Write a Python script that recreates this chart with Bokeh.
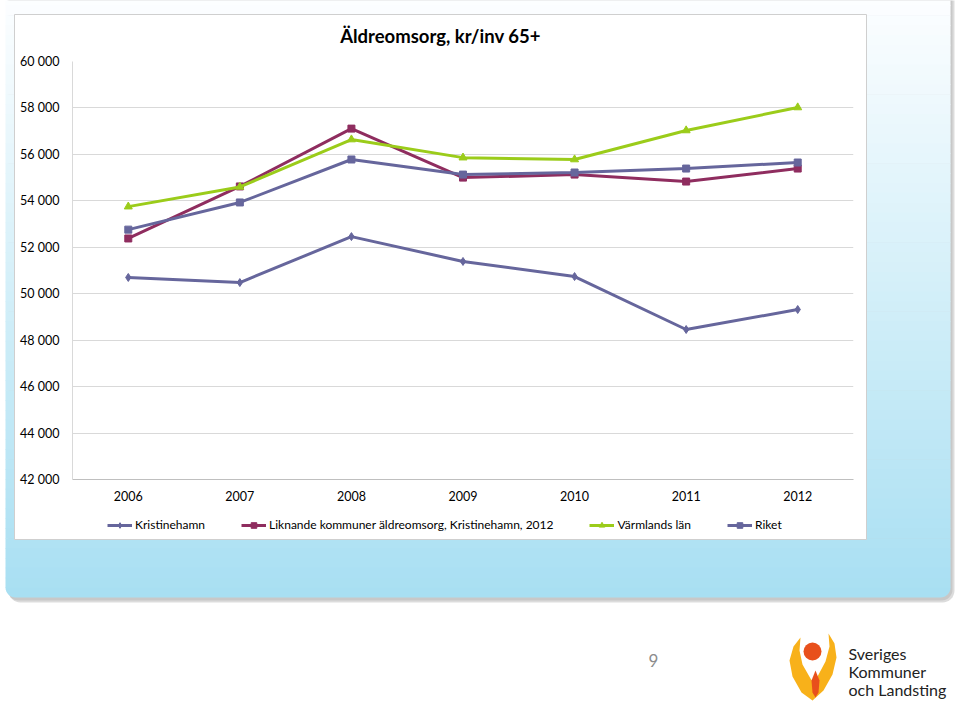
from bokeh.plotting import figure
from bokeh.models import (Legend, LegendItem, FixedTicker, Range1d, GridBox, Column)
from bokeh.core.properties import value
from bokeh.embed import file_html
from bokeh.resources import INLINE
import math

# ---- data ----
years = ["2006", "2007", "2008", "2009", "2010", "2011", "2012"]
kristinehamn = [50700, 50480, 52460, 51390, 50740, 48460, 49320]
liknande = [52380, 54620, 57110, 55000, 55130, 54830, 55390]
varmland = [53750, 54600, 56640, 55860, 55780, 57030, 58020]
riket = [52760, 53930, 55780, 55130, 55220, 55390, 55650]
y_ticks = [42000, 44000, 46000, 48000, 50000, 52000, 54000, 56000, 58000, 60000]
series_names = ["Kristinehamn",
                "Liknande kommuner äldreomsorg, Kristinehamn, 2012",
                "Värmlands län", "Riket"]
title_text = "Äldreomsorg, kr/inv 65+"
page_number = "9"
logo_lines = ["Sveriges", "Kommuner", "och Landsting"]

FONT = "Lato"
W, H = 956, 704

col_k = "#66669c"
col_l = "#8f2d5f"
col_v = "#9bcc1a"
col_r = "#66669c"
specs = [
    (kristinehamn, col_k, "diamond", 8),
    (liknande, col_l, "square", 7),
    (varmland, col_v, "triangle", 8),
    (riket, col_r, "square", 7),
]

# =================== background / slide figure (pixel space) ===================
bg = figure(width=W, height=H, x_range=Range1d(0, W), y_range=Range1d(H, 0),
            output_backend="svg", toolbar_location=None,
            x_axis_location=None, y_axis_location=None,
            min_border_left=0, min_border_right=0, min_border_top=0, min_border_bottom=0)
bg.outline_line_color = None
bg.grid.visible = False
bg.background_fill_color = "white"
bg.border_fill_color = "white"


def rounded_rect(x0, x1, y0, y1, r, n=8):
    xs, ys = [x0, x1], [y0, y0]
    for k in range(n + 1):  # bottom-right corner
        a = math.pi / 2 * k / n
        xs.append(x1 - r + r * math.cos(a))
        ys.append(y1 - r + r * math.sin(a))
    for k in range(n + 1):  # bottom-left corner
        a = math.pi / 2 + math.pi / 2 * k / n
        xs.append(x0 + r + r * math.cos(a))
        ys.append(y1 - r + r * math.sin(a))
    return xs, ys


# panel shadow
sx, sy = rounded_rect(8, 954, -5, 602, 12)
bg.patch(sx, sy, fill_color="#8c8c8c", fill_alpha=0.30, line_color=None)
sx, sy = rounded_rect(7, 952, -5, 600, 11)
bg.patch(sx, sy, fill_color="#9a9a9a", fill_alpha=0.30, line_color=None)

# gradient panel
top_c = (252, 254, 255)
bot_c = (168, 223, 242)
PX0, PX1, PY0, PY1 = 5, 950, -5, 597
n = 60
cut = PY1 - 10
lefts, rights, tops, bottoms, cols = [], [], [], [], []
for i in range(n):
    ya = PY0 + (cut - PY0) * i / n
    yb = PY0 + (cut - PY0) * (i + 1) / n
    t = (ya + yb) / 2 / PY1
    c = tuple(int(round(a + (b - a) * t)) for a, b in zip(top_c, bot_c))
    lefts.append(PX0)
    rights.append(PX1)
    tops.append(ya)
    bottoms.append(yb + 0.6)
    cols.append("#%02x%02x%02x" % c)
bg.quad(left=lefts, right=rights, top=tops, bottom=bottoms, fill_color=cols,
        line_color=None)
bx, by = rounded_rect(PX0, PX1, cut, PY1, 10)
bg.patch(bx, by, fill_color="#%02x%02x%02x" % bot_c, line_color=None)

# chart white box
bg.quad(left=[14], right=[866], top=[14], bottom=[539], fill_color="white",
        line_color="#cfcfcf", line_width=1)

# title
bg.text(x=[440], y=[35], text=[title_text], text_font=value(FONT),
        text_font_style="bold", text_font_size="18.5px", text_align="center",
        text_baseline="middle", text_color="#000000")

# page number
bg.text(x=[653], y=[660], text=[page_number], text_font=value(FONT),
        text_font_size="17px", text_align="center", text_baseline="middle",
        text_color="#8c8c8c")

# logo
bg.text(x=[848, 848, 848], y=[653, 671, 689], text=logo_lines,
        text_font=value(FONT), text_font_size="16px", text_align="left",
        text_baseline="middle", text_color="#222222")
left_arm = [(812, 700), (801, 692), (792, 676), (789, 660), (793, 646), (800, 637),
            (799, 650), (802, 664), (810, 678), (818, 690)]
right_arm = [(812, 700), (823, 690), (832, 674), (836, 657), (834, 643), (828, 633),
             (829, 646), (825, 661), (817, 676), (808, 690)]
bg.patches([[a for a, b in pl] for pl in (left_arm, right_arm)],
           [[b for a, b in pl] for pl in (left_arm, right_arm)],
           fill_color="#f8b11a", line_color=None)
bg.circle(x=[812], y=[651], radius=9, fill_color="#e8501c", line_color=None)
drop = [(815, 670), (819, 680), (818, 692), (815, 697), (812, 692), (811, 680)]
bg.patch([a for a, b in drop], [b for a, b in drop], fill_color="#e8501c",
         line_color=None)

# legend (drawn in the slide figure, keyed by sample renderers that draw nothing)
nan = float("nan")
items = []
for name, (vals, col, marker, size) in zip(series_names, specs):
    ln = bg.line(x=[nan, nan], y=[nan, nan], line_color=col, line_width=3)
    sc = bg.scatter(x=[nan], y=[nan], marker=marker, size=size, fill_color=col,
                    line_color=col)
    items.append(LegendItem(label=name, renderers=[ln, sc]))
legend = Legend(items=items, orientation="horizontal", location=(107, H - 532),
                label_text_font=FONT, label_text_font_size="12px",
                label_text_color="#000000",
                glyph_width=25, glyph_height=14, label_standoff=3, spacing=36,
                padding=0, margin=0, border_line_color=None,
                background_fill_alpha=0)
bg.add_layout(legend)

# =================== chart figure ===================
p = figure(x_range=years, y_range=Range1d(42000, 60000), width=W, height=H,
           output_backend="svg", toolbar_location=None,
           min_border_left=72, min_border_right=W - 853, min_border_top=61,
           min_border_bottom=H - 479)
p.outline_line_color = None
p.background_fill_color = None
p.border_fill_color = None

p.yaxis.ticker = FixedTicker(ticks=y_ticks)
p.yaxis.major_label_overrides = {t: f"{t:,}".replace(",", " ") for t in y_ticks}
p.yaxis.major_tick_line_color = None
p.yaxis.major_tick_out = 0
p.yaxis.major_tick_in = 0
p.yaxis.minor_tick_line_color = None
p.yaxis.minor_tick_out = 0
p.yaxis.axis_line_color = "#d9d9d9"
p.yaxis.major_label_standoff = 13
p.yaxis.major_label_text_font = FONT
p.yaxis.major_label_text_font_size = "12.5px"
p.yaxis.major_label_text_color = "#000000"

p.xaxis.major_tick_line_color = None
p.xaxis.major_tick_out = 0
p.xaxis.major_tick_in = 0
p.xaxis.axis_line_color = "#bfbfbf"
p.xaxis.major_label_standoff = 11
p.xaxis.major_label_text_font = FONT
p.xaxis.major_label_text_font_size = "12.5px"
p.xaxis.major_label_text_color = "#000000"

p.xgrid.grid_line_color = None
p.ygrid.grid_line_color = "#d9d9d9"
p.ygrid.grid_line_width = 1

for vals, col, marker, size in specs:
    p.line(years, vals, line_color=col, line_width=3)
    p.scatter(years, vals, marker=marker, size=size, fill_color=col, line_color=col)

layout = GridBox(children=[(Column(children=[bg]), 0, 0), (p, 0, 0)], spacing=0)

open("out.html", "w").write(file_html(layout, INLINE))
